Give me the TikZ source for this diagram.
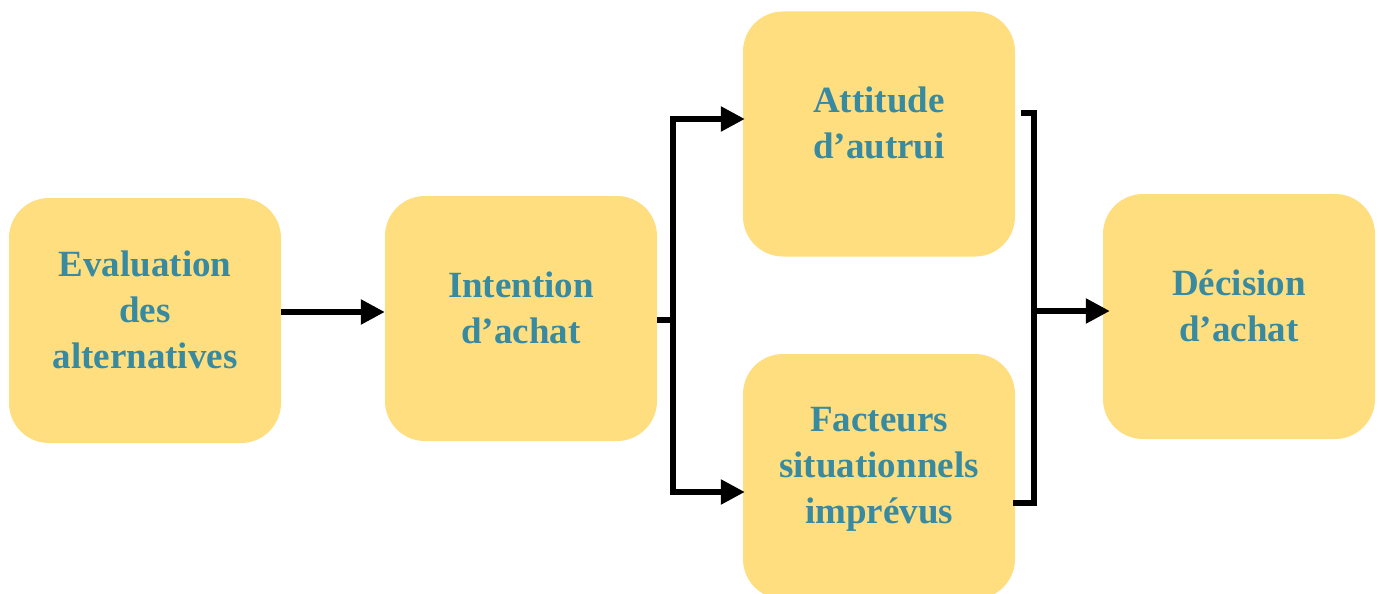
\documentclass[tikz,border=0pt]{standalone}
\usepackage{fontspec}
\setmainfont{Liberation Serif}
\usetikzlibrary{arrows.meta}
\definecolor{boxfill}{RGB}{255,222,128}
\definecolor{boxtext}{RGB}{56,138,160}
\begin{document}
\begin{tikzpicture}[x=1pt,y=-1pt,
  stage/.style={fill=boxfill, draw=none, rounded corners=40pt,
    minimum width=272pt, minimum height=245pt, inner sep=0pt},
  txt/.style={text=boxtext, align=center, inner sep=0pt,
    font=\fontsize{37}{46}\selectfont\bfseries},
  link/.style={draw=black, line width=5.5pt, line join=miter},
  arrow/.style={link, -{Triangle[length=24pt,width=24pt]}}]
\useasboundingbox (0,0) rectangle (1379,594);

% stages
\node[stage] (b1) at (145,320.5) {};
\node[stage] (b2) at (521,318.5) {};
\node[stage] (b3) at (879,134) {};
\node[stage] (b4) at (879,476.5) {};
\node[stage] (b5) at (1239,316.5) {};

% labels
\node[txt] (t1) at ([yshift=11pt]b1.center) {Evaluation\\des\\alternatives};
\node[txt] (t2) at ([yshift=11pt]b2.center) {Intention\\d’achat};
\node[txt] (t3) at ([yshift=11pt]b3.center) {Attitude\\d’autrui};
\node[txt] (t4) at ([yshift=7pt]b4.center) {Facteurs\\situationnels\\imprévus};
\node[txt] (t5) at ([yshift=11pt]b5.center) {Décision\\d’achat};

% evaluation -> intention
\draw[arrow] ([yshift=8.5pt]b1.east) -- ([yshift=8.5pt]b1.east -| b2.west);

% intention forks to the two influences
\coordinate (fork) at ([xshift=16pt,yshift=-1.5pt]b2.east);
\draw[link] ([yshift=-1.5pt]b2.east) -- (fork);
\draw[arrow] (fork) |- ([xshift=2pt,yshift=15pt]b3.west);
\draw[arrow] (fork) |- ([xshift=2pt,yshift=-15.5pt]b4.west);

% influences join into the decision
\coordinate (join) at ([xshift=-69pt,yshift=5.5pt]b5.west);
\draw[link] ([xshift=6pt,yshift=21pt]b3.east) -| (join) |- ([xshift=-2pt,yshift=-26.5pt]b4.east);
\draw[arrow, shorten >=-7pt] (join) -- ([yshift=5.5pt]b5.west);
\end{tikzpicture}
\end{document}
